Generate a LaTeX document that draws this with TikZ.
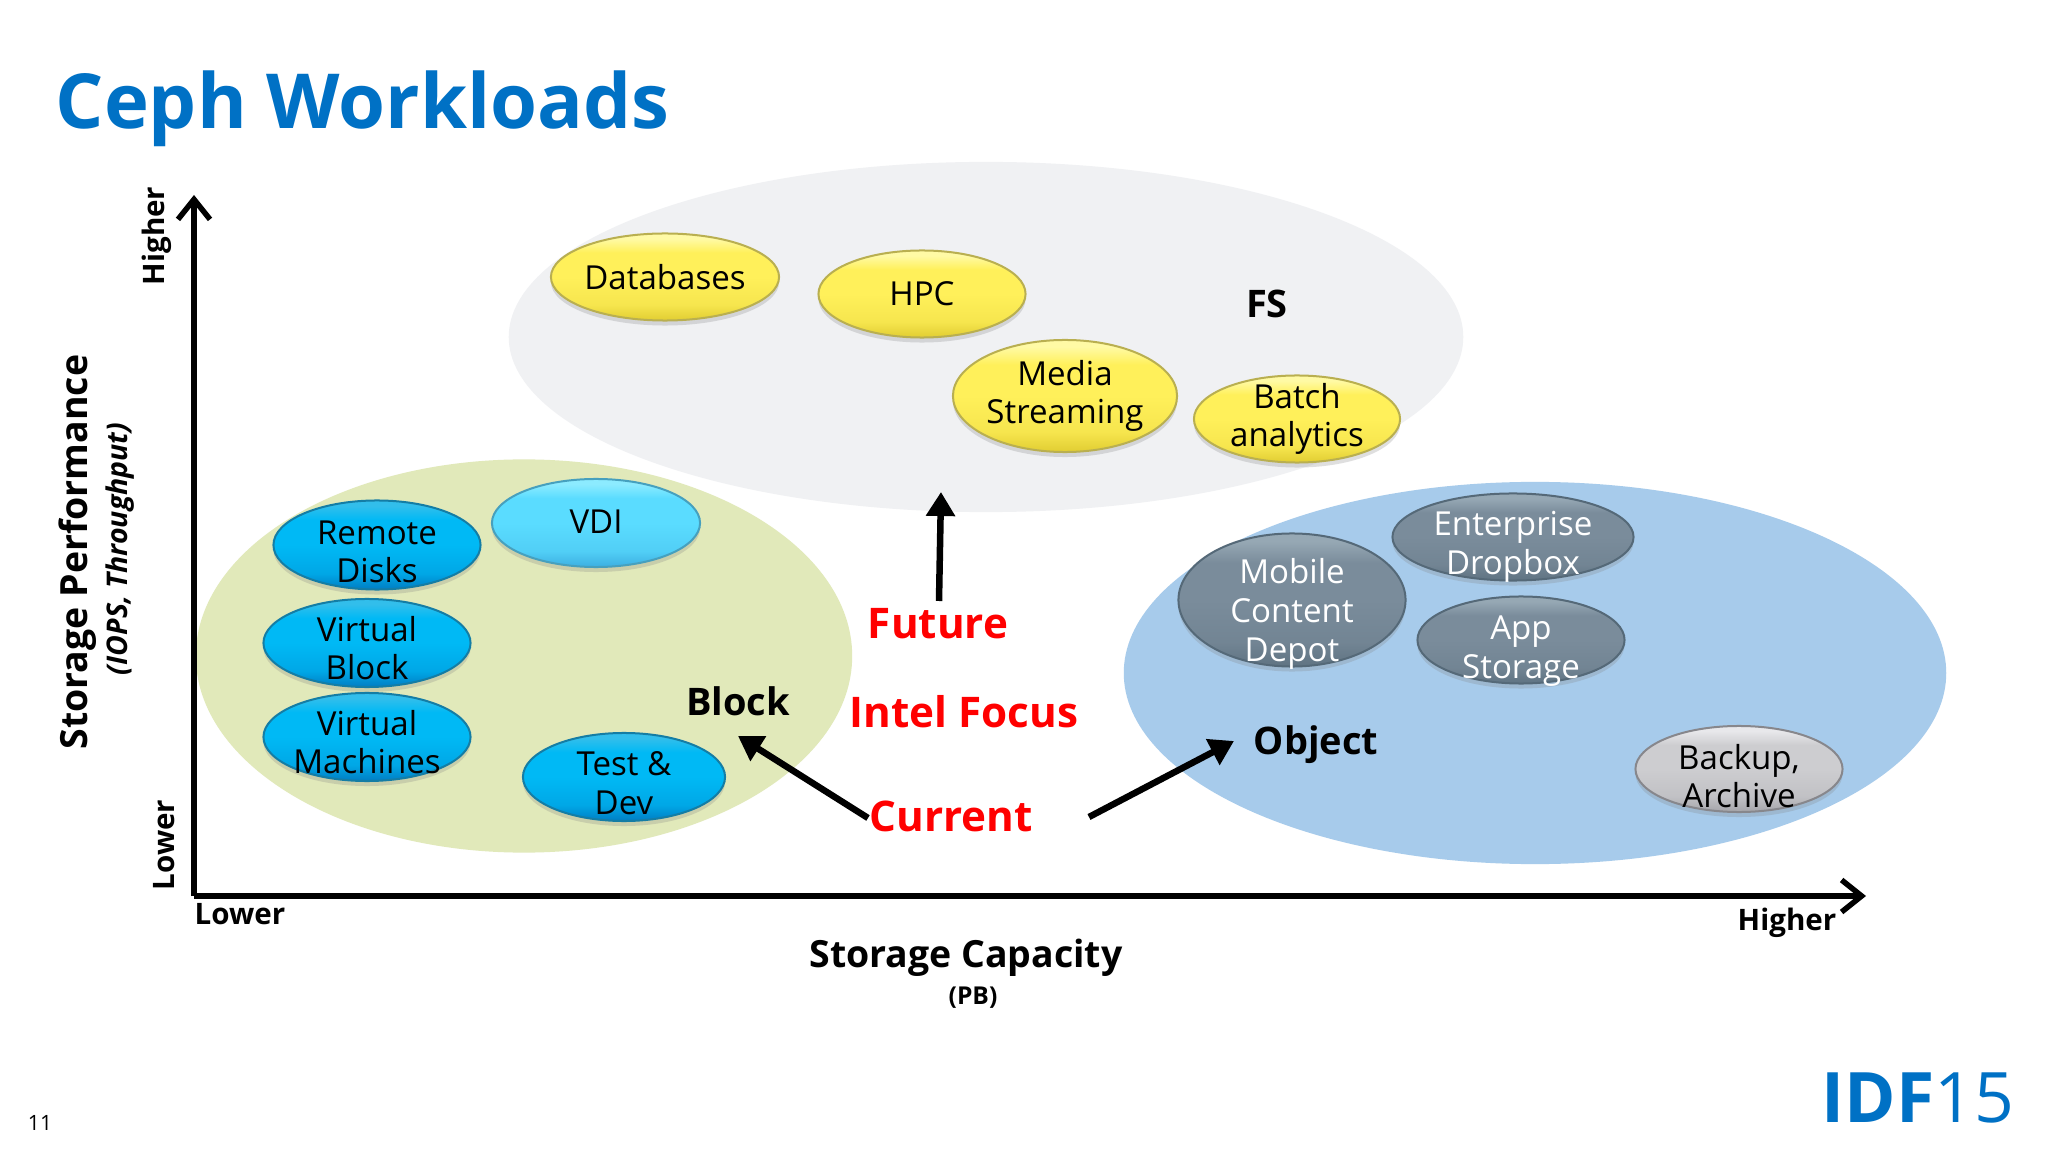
\documentclass[tikz,border=0pt]{standalone}
\usepackage{fontspec}
\setmainfont{Open Sans}
\usetikzlibrary{shapes.geometric,shadows,arrows.meta}
\definecolor{titleblue}{RGB}{0,113,197}
\definecolor{fsgray}{RGB}{240,241,243}
\definecolor{blockgreen}{RGB}{225,233,186}
\definecolor{objectblue}{RGB}{167,203,235}
\newcommand{\glossshade}[5]{\definecolor{#1rim}{RGB}{#2}\definecolor{#1dark}{RGB}{#3}\definecolor{#1mid}{RGB}{#4}\definecolor{#1light}{RGB}{#5}\pgfdeclareverticalshading{#1}{100bp}{color(0bp)=(#1dark); color(25bp)=(#1dark); color(34bp)=(#1mid!70!#1dark); color(50bp)=(#1mid); color(64bp)=(#1mid); color(72bp)=(#1light); color(75bp)=(#1light); color(100bp)=(#1light)}}
\glossshade{bluegloss}{20,125,165}{0,125,195}{0,185,245}{50,190,235}
\glossshade{cyangloss}{70,160,190}{60,175,225}{90,220,255}{140,235,255}
\glossshade{yellowgloss}{185,175,80}{225,205,50}{255,240,90}{255,250,165}
\glossshade{slategloss}{85,105,120}{95,115,130}{122,140,155}{150,168,180}
\glossshade{silvergloss}{135,135,140}{165,165,170}{205,205,208}{232,232,235}
\begin{document}
\begin{tikzpicture}[x=0.01cm,y=-0.01cm]
\tikzset{zone/.style={ellipse, inner sep=0pt},
  pill/.style={ellipse, inner sep=0pt, shading=#1, draw=#1rim, line width=0.02cm, drop shadow={shadow xshift=0pt, shadow yshift=-0.05cm, opacity=0.25}},
  pilltext/.style={align=center, font=\fontsize{9.4}{11}\selectfont},
  axislabel/.style={font=\fontsize{8.4}{10}\selectfont\bfseries},
  zonelabel/.style={font=\fontsize{10.8}{14}\selectfont\bfseries},
  focuslabel/.style={text=red, font=\fontsize{12}{15}\selectfont\bfseries},
  axisline/.style={line width=0.055cm, -{Straight Barb[length=0.2cm, width=0.32cm, line width=0.055cm]}},
  focusarrow/.style={line width=0.065cm, -{Triangle[length=0.24cm, width=0.28cm]}}}
\useasboundingbox (0,0) rectangle (2048,1152);
\fill[white] (0,0) rectangle (2048,1152);
\node[zone, minimum width=9.54cm, minimum height=3.50cm, fill=fsgray] (fszone) at (986,337) {};
\node[zone, minimum width=6.56cm, minimum height=3.93cm, fill=blockgreen] (blockzone) at (524,656) {};
\node[zone, minimum width=8.22cm, minimum height=3.82cm, fill=objectblue] (objectzone) at (1535,673) {};
\node[anchor=west, text=titleblue, inner sep=0pt, font=\fontsize{21.6}{26}\selectfont\bfseries] (title) at (55,109) {Ceph Workloads};
\node[pill=yellowgloss, minimum width=2.28cm, minimum height=0.87cm] (databases) at (665,277) {};
\node[pill=yellowgloss, minimum width=2.07cm, minimum height=0.87cm] (hpc) at (922,294) {};
\node[pill=yellowgloss, minimum width=2.24cm, minimum height=1.12cm] (media) at (1065,396) {};
\node[pill=yellowgloss, minimum width=2.06cm, minimum height=0.87cm] (batch) at (1297,419) {};
\node[pill=bluegloss, minimum width=2.07cm, minimum height=0.89cm] (remote) at (377,545) {};
\node[pill=cyangloss, minimum width=2.08cm, minimum height=0.88cm] (vdi) at (596,523) {};
\node[pill=bluegloss, minimum width=2.07cm, minimum height=0.88cm] (vblock) at (367,643) {};
\node[pill=bluegloss, minimum width=2.07cm, minimum height=0.88cm] (vmachines) at (367,737) {};
\node[pill=bluegloss, minimum width=2.02cm, minimum height=0.88cm] (testdev) at (624,777) {};
\node[pill=slategloss, minimum width=2.27cm, minimum height=1.33cm] (mobile) at (1292,600) {};
\node[pill=slategloss, minimum width=2.41cm, minimum height=0.87cm] (enterprise) at (1513,537) {};
\node[pill=slategloss, minimum width=2.07cm, minimum height=0.87cm] (app) at (1521,640) {};
\node[pill=silvergloss, minimum width=2.07cm, minimum height=0.86cm] (backup) at (1739,769) {};
\node[pilltext] (databasestext) at (databases) {Databases};
\node[pilltext] (hpctext) at (hpc) {HPC};
\node[pilltext] (mediatext) at (media) {Media\\Streaming};
\node[pilltext] (batchtext) at (batch) {Batch\\analytics};
\node[pilltext, yshift=-0.07cm] (remotetext) at (remote) {Remote\\Disks};
\node[pilltext, yshift=0.01cm] (vditext) at (vdi) {VDI};
\node[pilltext, yshift=-0.05cm] (vblocktext) at (vblock) {Virtual\\Block};
\node[pilltext, yshift=-0.05cm] (vmachinestext) at (vmachines) {Virtual\\Machines};
\node[pilltext, yshift=-0.06cm] (testdevtext) at (testdev) {Test \&\\Dev};
\node[pilltext, text=white, yshift=-0.14cm] (mobiletext) at (mobile) {Mobile\\Content\\Depot};
\node[pilltext, text=white, yshift=-0.10cm] (enterprisetext) at (enterprise) {Enterprise\\Dropbox};
\node[pilltext, text=white, yshift=-0.11cm] (apptext) at (app) {App\\Storage};
\node[pilltext, yshift=-0.07cm] (backuptext) at (backup) {Backup,\\Archive};
\node[zonelabel] (fslabel) at (1267,304) {FS};
\node[zonelabel] (blocklabel) at (738,701) {Block};
\node[zonelabel] (objectlabel) at (1316,745) {Object};
\node[focuslabel] (future) at (938,624) {Future};
\node[focuslabel] (intel) at (964,712) {Intel Focus};
\node[focuslabel] (current) at (951,816) {Current};
\coordinate (futuretail) at (939,601);
\coordinate (futuretip) at (941,492);
\coordinate (blocktip) at (738,736);
\coordinate (blocktail) at (868,818);
\coordinate (objecttail) at (1089,817);
\coordinate (objecttip) at (1234,741);
\draw[focusarrow] (futuretail) -- (futuretip);
\draw[focusarrow] (blocktail) -- (blocktip);
\draw[focusarrow] (objecttail) -- (objecttip);
\coordinate (origin) at (194,896);
\coordinate (ytip) at (194,195);
\coordinate (xtip) at (1866,896);
\draw[axisline] (origin) -- (ytip);
\draw[axisline] (origin) -- (xtip);
\node[axislabel, rotate=90] (yhigher) at (157,236) {Higher};
\node[axislabel, rotate=90] (ylower) at (164,845) {Lower};
\node[axislabel] (xlower) at (240,914) {Lower};
\node[axislabel] (xhigher) at (1787,923) {Higher};
\node[rotate=90, font=\fontsize{10.65}{13}\selectfont\bfseries] (ytitle) at (78,552) {Storage Performance};
\node[rotate=90, font=\fontsize{8.1}{9}\selectfont\bfseries\itshape] (ysub) at (120,549) {(IOPS, Throughput)};
\node[font=\fontsize{10.65}{13}\selectfont\bfseries] (xtitle) at (966,958) {Storage Capacity};
\node[font=\fontsize{7}{9}\selectfont\bfseries] (xsub) at (973,998) {(PB)};
\node[font=\fontsize{6}{8}\selectfont] (pageno) at (40,1123) {11};
\node[anchor=east, text=titleblue, inner sep=0pt, font=\fontsize{19.8}{26}\selectfont] (logo) at (2015,1098) {{\bfseries IDF}15};
\end{tikzpicture}
\end{document}
